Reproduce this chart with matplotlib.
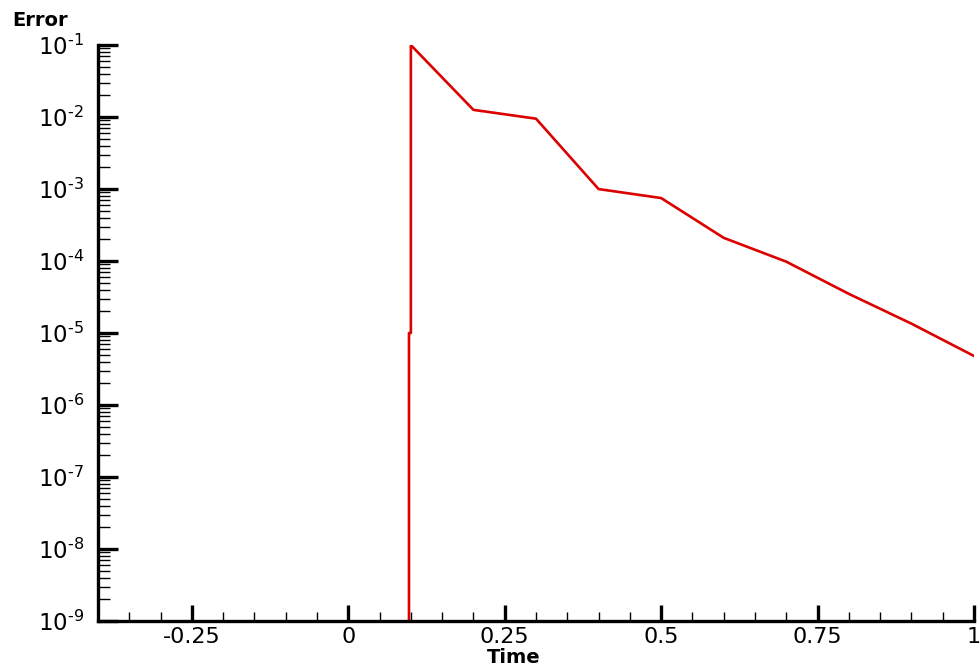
import math
import matplotlib
matplotlib.use("Agg")
from matplotlib import pyplot as plt
from matplotlib.ticker import LogLocator, MultipleLocator, FuncFormatter, NullFormatter

plt.rcParams['font.family'] = ['DejaVu Sans']
plt.rcParams['mathtext.fontset'] = 'dejavusans'

# error history (the front starts just before t = 0.1)
time = [0.097, 0.097, 0.1, 0.1, 0.2, 0.3, 0.4, 0.5, 0.6, 0.7, 0.8, 0.9, 1.0]
error = [1e-12, 1e-5, 1e-5, 0.1, 0.0126, 0.0095, 1.0e-3, 7.5e-4, 2.1e-4, 9.8e-5, 3.5e-5, 1.35e-5, 4.8e-6]

x_ticks = [-0.25, 0, 0.25, 0.5, 0.75, 1]
x_labels = ["-0.25", "0", "0.25", "0.5", "0.75", "1"]


def pow10(v, pos):
    return r"$\mathregular{10^{\text{-%d}}}$" % -round(math.log10(v))


fig = plt.figure(figsize=(9.8, 6.72), dpi=100)
ax = fig.add_axes([0.1, 0.0759, 0.8939, 0.857])
ax.plot(time, error, color="#dc0000", lw=1.9)

ax.set_yscale("log")
ax.set_xlim(-0.4, 1.0)
ax.set_ylim(1e-9, 1e-1)

ax.set_xticks(x_ticks)
ax.set_xticklabels(x_labels)
ax.xaxis.set_minor_locator(MultipleLocator(0.05))
ax.yaxis.set_major_locator(LogLocator(base=10, numticks=20))
ax.yaxis.set_minor_locator(LogLocator(base=10, subs=range(2, 10), numticks=20))
ax.yaxis.set_minor_formatter(NullFormatter())
ax.yaxis.set_major_formatter(FuncFormatter(pow10))

for s in ["top", "right"]:
    ax.spines[s].set_visible(False)
for s in ["left", "bottom"]:
    ax.spines[s].set_linewidth(2.4)

ax.tick_params(axis="x", which="major", direction="in", length=11.5, width=2.4, labelsize=16, pad=4)
ax.tick_params(axis="x", which="minor", direction="in", length=6.5, width=1.0)
ax.tick_params(axis="y", which="major", direction="in", length=14.5, width=2.4, labelsize=16.5, pad=10)
ax.tick_params(axis="y", which="minor", direction="in", length=8.5, width=1.0)

fig.text(0.012, 0.97, "Error", fontsize=14, fontweight="bold", ha="left", va="center")
fig.text(0.524, 0.021, "Time", fontsize=14, fontweight="bold", ha="center", va="center")

fig.savefig("out.png", dpi=100)
